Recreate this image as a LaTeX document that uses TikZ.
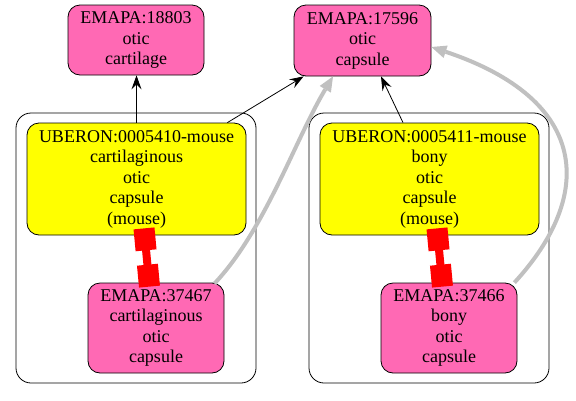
\documentclass[tikz,border=0pt]{standalone}
\usepackage{fontspec}
\newfontfamily\tms{LiberationSerif}[Extension=.ttf, UprightFont=*-Regular]
\usetikzlibrary{arrows.meta,calc}
\definecolor{hpink}{HTML}{FF69B4}
\definecolor{silv}{HTML}{C0C0C0}
\definecolor{yel}{HTML}{FFFF00}
\begin{document}
\begin{tikzpicture}[x=1pt,y=-1pt,
  box/.style={draw=black, line width=0.8pt, rounded corners=12pt, align=center, inner sep=0pt,
    font=\tms\fontsize{18}{20.5}\selectfont},
  pinkbox/.style={box, fill=hpink, minimum width=136pt},
  yelbox/.style={box, fill=yel, minimum width=219pt, minimum height=112pt},
  clus/.style={draw=black, line width=0.8pt, rounded corners=15pt},
  blk/.style={draw=black, line width=0.8pt, -{Stealth[length=14pt,width=10pt,inset=5pt]}},
  gry/.style={draw=silv, line width=4pt, -{Triangle[length=15pt,width=13pt,line width=0pt]}},
  redw/.style={draw=red, line width=21pt},
  redn/.style={draw=red, line width=8pt}]
\useasboundingbox (0,0) rectangle (576,400);
\fill[white] (0,0) rectangle (576,400);
% clusters
\draw[clus] (16,113) rectangle (256,383);
\draw[clus] (309,113) rectangle (549,383);
% nodes
\node[pinkbox, minimum height=70pt] (e18803) at (136,40) {EMAPA:18803\\otic\\cartilage};
\node[pinkbox, minimum width=137pt, minimum height=71pt] (e17596) at (362.5,40.5) {EMAPA:17596\\otic\\capsule};
\node[yelbox] (u5410) at (136.5,179) {UBERON:0005410-mouse\\cartilaginous\\otic\\capsule\\(mouse)};
\node[yelbox] (u5411) at (429.5,179) {UBERON:0005411-mouse\\bony\\otic\\capsule\\(mouse)};
\node[pinkbox, minimum height=90pt] (e37467) at (156,328) {EMAPA:37467\\cartilaginous\\otic\\capsule};
\node[pinkbox, minimum height=90pt] (e37466) at (449,328) {EMAPA:37466\\bony\\otic\\capsule};
% black edges
\draw[blk] (u5410.north) -- (u5410.north |- e18803.south);
\draw[blk] ($(u5410.north east)+(-19,0)$) -- ($(e17596.south west)+(10,0)$);
\draw[blk] ($(u5411.north)+(-26.5,0)$) -- ($(e17596.south)+(18.5,0)$);
% gray edges
\coordinate (g1s) at ($(e37467.north east)+(-10,1)$);
\coordinate (g1e) at ($(e17596.south)+(-29.5,0)$);
\draw[gry] (g1s) .. controls (265,230) and (295,140) .. (g1e);
\coordinate (g2s) at ($(e37466.north east)+(-3,0)$);
\coordinate (g2e) at ($(e17596.east)+(0,6.5)$);
\draw[gry] (g2s) .. controls (595,195) and (590,100) .. (g2e);
% red edges
\coordinate (r1a) at ($(u5410.south)+(7.5,-7)$);
\coordinate (r1b) at ($(e37467.north)+(-6.5,4)$);
\coordinate (r2a) at ($(u5411.south)+(7.5,-7)$);
\coordinate (r2b) at ($(e37466.north)+(-6.5,4)$);
\foreach \a/\b in {r1a/r1b, r2a/r2b}{
  \draw[redw] (\a) -- ($(\a)!22pt!(\b)$);
  \draw[redn] ($(\a)!21pt!(\b)$) -- ($(\b)!21pt!(\a)$);
  \draw[redw] ($(\b)!22pt!(\a)$) -- (\b);
}
\end{tikzpicture}
\end{document}
